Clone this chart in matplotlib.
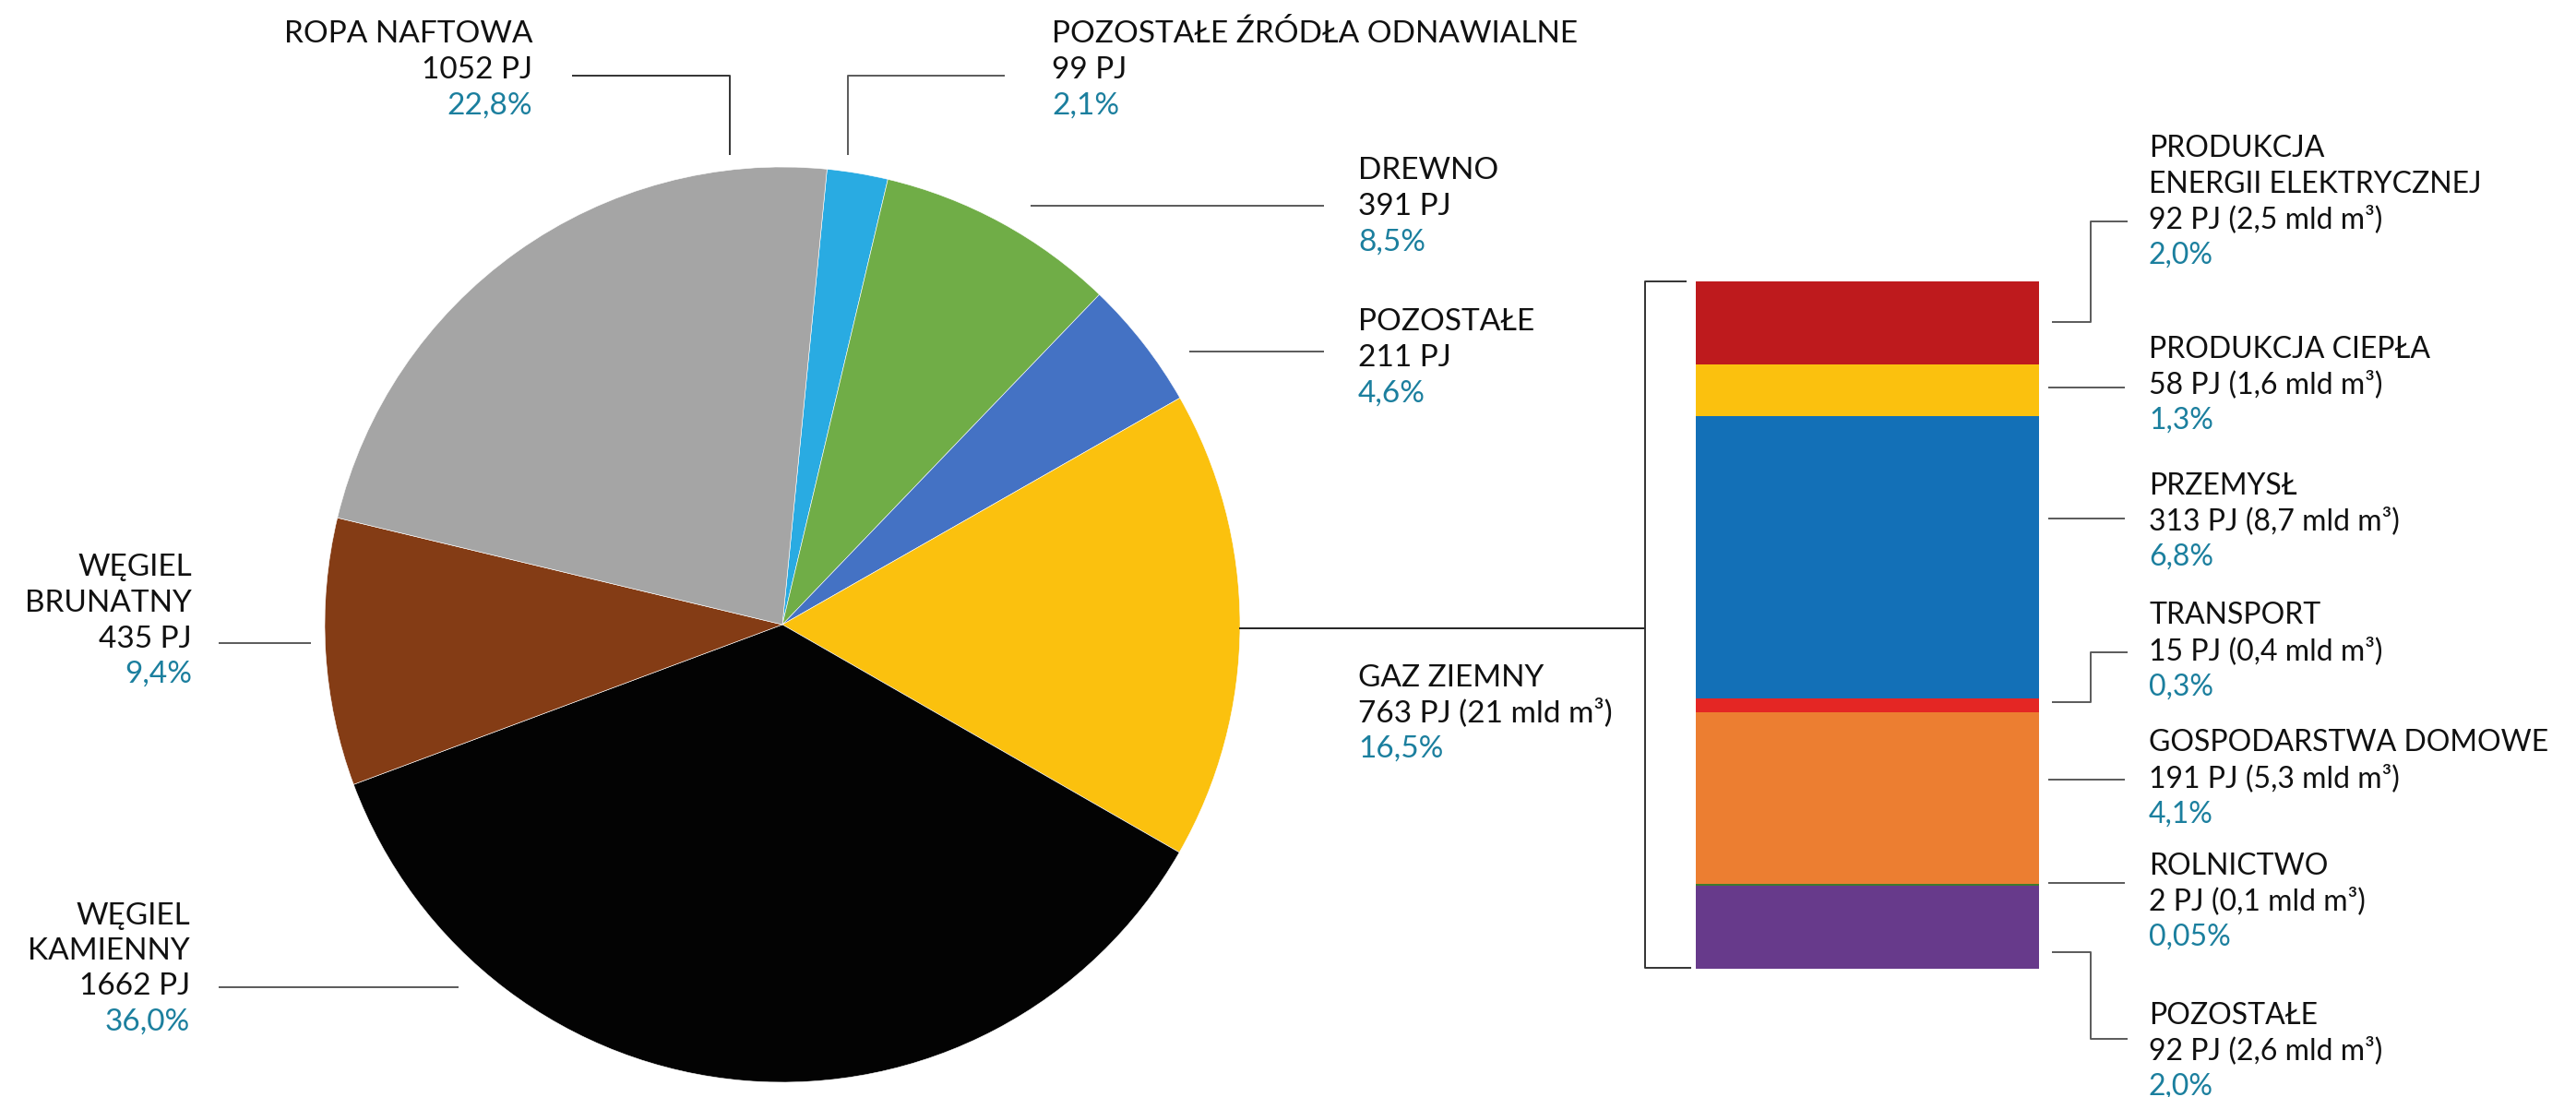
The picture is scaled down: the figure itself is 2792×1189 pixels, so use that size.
import numpy as np
import matplotlib
matplotlib.use("Agg")
from matplotlib import pyplot as plt

plt.rcParams["font.family"] = ["Lato", "DejaVu Sans"]

# zużycie energii pierwotnej wg nośnika (PJ)
pie_names = ["POZOSTAŁE ŹRÓDŁA ODNAWIALNE", "DREWNO", "POZOSTAŁE", "GAZ ZIEMNY",
             "WĘGIEL\nKAMIENNY", "WĘGIEL\nBRUNATNY", "ROPA NAFTOWA"]
pie_values = [99, 391, 211, 763, 1662, 435, 1052]
pie_extra = ["", "", "", " (21 mld m³)", "", "", ""]
pie_pct = ["2,1%", "8,5%", "4,6%", "16,5%", "36,0%", "9,4%", "22,8%"]
pie_colors = ["#29ABE2", "#70AD47", "#4472C4", "#FBC10E", "#030303", "#843C15", "#A5A5A5"]

# gaz ziemny wg odbiorcy (PJ), od góry słupka
gas_names = ["PRODUKCJA\nENERGII ELEKTRYCZNEJ", "PRODUKCJA CIEPŁA", "PRZEMYSŁ", "TRANSPORT",
             "GOSPODARSTWA DOMOWE", "ROLNICTWO", "POZOSTAŁE"]
gas_values = [92, 58, 313, 15, 191, 2, 92]
gas_bcm = ["2,5", "1,6", "8,7", "0,4", "5,3", "0,1", "2,6"]
gas_pct = ["2,0%", "1,3%", "6,8%", "0,3%", "4,1%", "0,05%", "2,0%"]
gas_colors = ["#BE1A1D", "#FBC10E", "#1370B7", "#E42624", "#EC7E31", "#3E7A2E", "#673A8B"]

W, H = 2792, 1189
FS_PIE = 24
FS_BAR = 23
BLACK = "#111111"
TEAL = "#1B7F9E"
LINE = "#5a5a5a"
LINE_SPACING = 38.5
CAP = 11.5  # half cap height in px

fig = plt.figure(figsize=(W / 100, H / 100), dpi=100)
ax = fig.add_axes([0, 0, 1, 1])

# y axis is flipped below (image coords), so counterclock=True draws clockwise on screen
ax.pie(pie_values, colors=pie_colors, center=(848, 677), radius=496,
       startangle=-84.4, counterclock=True,
       wedgeprops=dict(edgecolor="white", linewidth=0.4))
ax.set_xlim(0, W)
ax.set_ylim(H, 0)
ax.set_aspect("auto")
ax.axis("off")


def label(x, y0, lines, ha, fs):
    # lines: list of (text, color); y0 = centre of the first line's capitals
    for i, (t, c) in enumerate(lines):
        ax.text(x, y0 + i * LINE_SPACING + CAP, t, ha=ha, va="baseline",
                fontsize=fs, color=c)


def line(xs, ys, color=LINE):
    ax.plot(xs, ys, color=color, lw=1.4, solid_capstyle="butt")


def pie_lines(i):
    rows = [(n, BLACK) for n in pie_names[i].split("\n")]
    rows.append((f"{pie_values[i]} PJ{pie_extra[i]}", BLACK))
    rows.append((pie_pct[i], TEAL))
    return rows


# (x, y of first line, alignment) for each pie label
pie_pos = [(1140, 35, "left"), (1472, 183, "left"), (1472, 347, "left"), (1472, 732, "left"),
           (206, 990, "right"), (208, 613, "right"), (577, 35, "right")]
for i, (x, y, ha) in enumerate(pie_pos):
    label(x, y, pie_lines(i), ha, FS_PIE)

line([1089, 919, 919], [82, 82, 168])
line([1117, 1435], [223, 223])
line([1289, 1435], [381, 381])
line([1343, 1783], [681, 681], "#222222")
line([237, 497], [1070, 1070])
line([237, 337], [697, 697])
line([620, 791, 791], [82, 82, 168], "#333333")

# bracket joining the gas slice to the bar
line([1828, 1783, 1783, 1833], [305, 305, 1049, 1049], "#333333")

# stacked bar for gas
bx0, bx1, by0, by1 = 1838, 2210, 305, 1050
bax = fig.add_axes([bx0 / W, (H - by1) / H, (bx1 - bx0) / W, (by1 - by0) / H])
total = sum(gas_values)
tops = total - np.cumsum([0] + gas_values[:-1])
bax.bar(0, gas_values, bottom=tops - np.array(gas_values), width=1,
        color=gas_colors, linewidth=0)
bax.set_xlim(-0.5, 0.5)
bax.set_ylim(0, total)
bax.axis("off")

gas_y = [159, 376, 524, 665, 803, 936, 1098]
for i, y in enumerate(gas_y):
    rows = [(n, BLACK) for n in gas_names[i].split("\n")]
    rows.append((f"{gas_values[i]} PJ ({gas_bcm[i]} mld m³)", BLACK))
    rows.append((gas_pct[i], TEAL))
    label(2329, y, rows, "left", FS_BAR)

line([2224, 2266, 2266, 2306], [349, 349, 240, 240])
line([2220, 2303], [420, 420])
line([2220, 2303], [562, 562])
line([2224, 2266, 2266, 2306], [761, 761, 707, 707])
line([2220, 2303], [845, 845])
line([2220, 2303], [957, 957])
line([2224, 2266, 2266, 2306], [1032, 1032, 1126, 1126])

fig.savefig("out.png", dpi=100)
